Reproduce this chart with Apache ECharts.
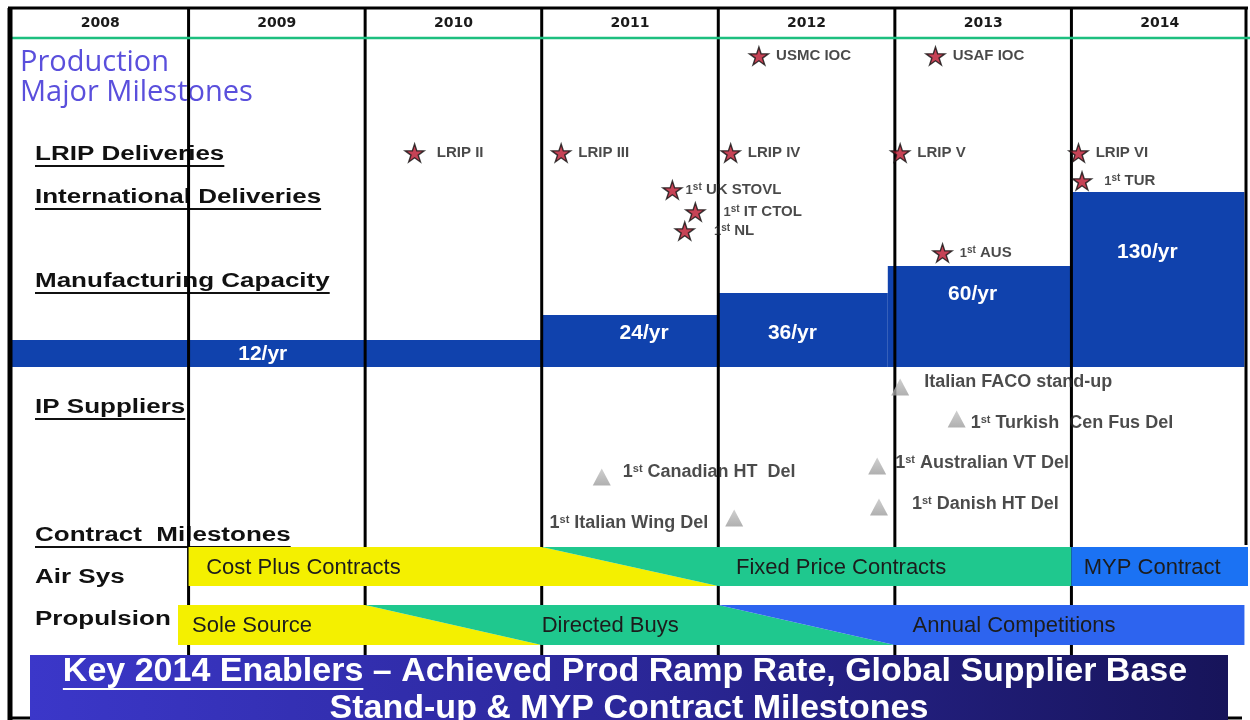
<!DOCTYPE html>
<html>
<head>
<meta charset="utf-8">
<title>Production Major Milestones</title>
<script src="https://cdn.jsdelivr.net/npm/echarts@6/dist/echarts.min.js"></script>
<style>
  html, body { margin: 0; padding: 0; background: #fff; }
  #main { width: 1250px; height: 720px; }
</style>
</head>
<body>
<div id="main"></div>
<script>
// header years (columns) and the year boundaries between them
var years = ['2008', '2009', '2010', '2011', '2012', '2013', '2014'];
var yearBounds = [2009, 2010, 2011, 2012, 2013, 2014];

// star milestones: production + international deliveries
var starNames = ['USMC IOC', 'USAF IOC', 'LRIP II', 'LRIP III', 'LRIP IV', 'LRIP V', 'LRIP VI',
  '1st UK STOVL', '1st IT CTOL', '1st NL', '1st AUS', '1st TUR'];
var starDates = [2012.23, 2013.23, 2010.28, 2011.11, 2012.07, 2013.03, 2014.04,
  2011.74, 2011.87, 2011.81, 2013.27, 2014.06];
var starRows = [56, 56, 153, 153, 153, 153, 153, 190, 212, 231, 253, 181];

// manufacturing capacity steps
var capRates = ['12/yr', '24/yr', '36/yr', '60/yr', '130/yr'];
var capFrom = [2008, 2011, 2012, 2012.96, 2014];
var capTo = [2011, 2012, 2012.96, 2014, 2014.98];
var capLevel = [340, 315, 293, 266, 192];
var capLabelAt = [2009.42, 2011.58, 2012.42, 2013.44, 2014.43];
var capLabelRow = [354, 333, 333, 294, 252];

// IP supplier milestones (triangles)
var ipNames = ['Italian FACO stand-up', '1st Turkish  Cen Fus Del', '1st Australian VT Del',
  '1st Danish HT Del', '1st Canadian HT  Del', '1st Italian Wing Del'];
var ipDates = [2013.03, 2013.35, 2012.90, 2012.91, 2011.34, 2012.09];
var ipRows = [387, 419, 466, 507, 477, 518];

// contract milestones: phases with slanted hand-overs
var airNames = ['Cost Plus Contracts', 'Fixed Price Contracts', 'MYP Contract'];
var airTopFrom = [2009, 2011, 2014];
var airTopTo = [2011, 2014, 2015];
var airBotFrom = [2009, 2012, 2014];
var airBotTo = [2012, 2014, 2015];
var airLabelAt = [2009.1, 2012.1, 2014.07];

var propNames = ['Sole Source', 'Directed Buys', 'Annual Competitions'];
var propTopFrom = [2008.94, 2010, 2012];
var propTopTo = [2010, 2012, 2014.98];
var propBotFrom = [2008.94, 2011, 2013];
var propBotTo = [2011, 2013, 2014.98];
var propLabelAt = [2009.02, 2011.0, 2013.1];

// left hand section titles
var sectionNames = ['LRIP Deliveries', 'International Deliveries', 'Manufacturing Capacity',
  'IP Suppliers', 'Contract  Milestones', 'Air Sys', 'Propulsion'];
var sectionRows = [154, 197, 281, 407, 535, 577, 619];
var sectionUnderline = [true, true, true, true, true, false, false];

// ---- layout bits (not data) ----
var capBase = 367;
var airRow = [547, 586];
var propRow = [605, 645];
var airColors = ['#f4f000', '#1fc88e', '#1b72f3'];
var propColors = ['#f4f000', '#1fc88e', '#2d64ef'];
var ipLabelShift = [[15, -5], [5, 4], [9, -3], [24, -3], [12, -5], [-17, 5]];
var starLabelGap = { '1st IT CTOL': 18, '1st NL': 19, '1st UK STOVL': 3, '1st TUR': 12, 'LRIP II': 12 };

var SANS = '"Liberation Sans", Arial, sans-serif';
var starPath = 'path://M50,0 L61.2,34.5 L97.6,34.5 L68.2,55.9 L79.4,90.5 L50,69.1 L20.6,90.5 L31.8,55.9 L2.4,34.5 L38.8,34.5 Z';

function ordinal(name) {
  if (name.indexOf('1st') === 0) return '{n|1}{s|st}{t|' + name.slice(3) + '}';
  return '{t|' + name + '}';
}

function measure(text, font) {
  var ctx = document.createElement('canvas').getContext('2d');
  ctx.font = font;
  return ctx.measureText(text).width;
}

var chart = echarts.init(document.getElementById('main'));

var starData = starNames.map(function (n, i) {
  return {
    name: n,
    value: [starDates[i], starRows[i]],
    label: { distance: starLabelGap[n] != null ? starLabelGap[n] : 7 }
  };
});

var ipData = ipNames.map(function (n, i) {
  var sh = ipLabelShift[i];
  return {
    name: n,
    value: [ipDates[i], ipRows[i]],
    label: { position: sh[0] < 0 ? 'left' : 'right', distance: 0, offset: sh }
  };
});

var capData = capRates.map(function (r, i) {
  return [capFrom[i], capTo[i], capLevel[i], capLabelAt[i], capLabelRow[i]];
});

var contractData = [];
airNames.forEach(function (n, i) {
  contractData.push({ name: n, value: [airTopFrom[i], airTopTo[i], airBotFrom[i], airBotTo[i], airRow[0], airRow[1], airLabelAt[i]], color: airColors[i] });
});
propNames.forEach(function (n, i) {
  contractData.push({ name: n, value: [propTopFrom[i], propTopTo[i], propBotFrom[i], propBotTo[i], propRow[0], propRow[1], propLabelAt[i]], color: propColors[i] });
});

chart.setOption({
  animation: false,
  grid: { left: 12, right: 2, top: 0, bottom: 0, outerBoundsMode: 'none' },
  xAxis: [
    { type: 'value', min: 2008, max: 2015, show: false },
    {
      type: 'category', data: years, position: 'top', boundaryGap: true,
      axisLine: { show: false }, axisTick: { show: false }, splitLine: { show: false },
      axisLabel: { inside: true, margin: 16, color: '#1a1a1a', fontFamily: 'DejaVu Sans', fontWeight: 'bold', fontSize: 14 }
    }
  ],
  yAxis: { type: 'value', min: 0, max: 720, inverse: true, show: false },
  series: [
    {
      name: 'capacity', type: 'custom', z: 1, xAxisIndex: 0,
      encode: { x: [0, 1], y: 2 },
      data: capData,
      renderItem: function (params, api) {
        var p0 = api.coord([api.value(0), api.value(2)]);
        var p1 = api.coord([api.value(1), capBase]);
        var lp = api.coord([api.value(3), api.value(4)]);
        return {
          type: 'group',
          children: [
            { type: 'rect', shape: { x: p0[0], y: p0[1], width: p1[0] - p0[0], height: p1[1] - p0[1] }, style: { fill: '#1042ad' } },
            { type: 'text', x: lp[0], y: lp[1], style: { text: capRates[params.dataIndex], fill: '#fff', font: 'bold 21px ' + SANS, align: 'center', verticalAlign: 'middle' } }
          ]
        };
      }
    },
    {
      name: 'years', type: 'custom', z: 2, xAxisIndex: 0,
      encode: { x: 0, y: [1, 2] },
      data: yearBounds.map(function (y) { return [y, 8, 655]; }),
      renderItem: function (params, api) {
        var a = api.coord([api.value(0), api.value(1)]);
        var b = api.coord([api.value(0), api.value(2)]);
        return { type: 'line', shape: { x1: a[0], y1: a[1], x2: b[0], y2: b[1] }, style: { stroke: '#000', lineWidth: 3 } };
      }
    },
    {
      name: 'contracts', type: 'custom', z: 3, xAxisIndex: 0,
      encode: { x: [0, 1, 2, 3], y: [4, 5] },
      data: contractData,
      renderItem: function (params, api) {
        var top = api.value(4), bot = api.value(5);
        var tl = api.coord([api.value(0), top]);
        var tr = api.coord([api.value(1), top]);
        var br = api.coord([api.value(3), bot]);
        var bl = api.coord([api.value(2), bot]);
        var lp = api.coord([api.value(6), (top + bot) / 2]);
        var item = contractData[params.dataIndex];
        return {
          type: 'group',
          children: [
            { type: 'polygon', shape: { points: [tl, tr, br, bl] }, style: { fill: item.color } },
            { type: 'text', x: lp[0], y: lp[1] + 1, style: { text: item.name, fill: '#1c1c1c', font: '22px ' + SANS, align: 'left', verticalAlign: 'middle' } }
          ]
        };
      }
    },
    {
      name: 'IP suppliers', type: 'scatter', z: 4, xAxisIndex: 0,
      symbol: 'triangle', symbolSize: [18, 17],
      itemStyle: {
        color: new echarts.graphic.LinearGradient(0, 0, 0, 1, [
          { offset: 0, color: '#c4c4c4' }, { offset: 1, color: '#9c9c9c' }
        ])
      },
      label: {
        show: true, formatter: function (p) { return ordinal(p.name); },
        rich: {
          t: { fontFamily: SANS, fontWeight: 'bold', fontSize: 18, color: '#1e1e1e' },
          n: { fontFamily: SANS, fontWeight: 'bold', fontSize: 18, color: '#1e1e1e' },
          s: { fontFamily: SANS, fontWeight: 'bold', fontSize: 11, color: '#1e1e1e', verticalAlign: 'top' }
        }
      },
      data: ipData
    },
    {
      name: 'milestones', type: 'scatter', z: 5, xAxisIndex: 0,
      symbol: starPath, symbolSize: [19, 18],
      itemStyle: { color: '#b8142c', borderColor: '#111', borderWidth: 1.4 },
      label: {
        show: true, position: 'right', formatter: function (p) { return ordinal(p.name); },
        rich: {
          t: { fontFamily: SANS, fontWeight: 'bold', fontSize: 15, color: '#1c1c1c' },
          n: { fontFamily: SANS, fontWeight: 'bold', fontSize: 13, color: '#1c1c1c' },
          s: { fontFamily: SANS, fontWeight: 'bold', fontSize: 10, color: '#1c1c1c', verticalAlign: 'top' }
        }
      },
      data: starData
    }
  ]
});

// frame, titles and the bottom banner
var graphics = [];
function hline(x1, x2, y, w, c, z) {
  graphics.push({ type: 'line', z: z || 6, shape: { x1: x1, y1: y, x2: x2, y2: y }, style: { stroke: c, lineWidth: w } });
}
function vline(x, y1, y2, w, c, z) {
  graphics.push({ type: 'line', z: z || 6, shape: { x1: x, y1: y1, x2: x, y2: y2 }, style: { stroke: c, lineWidth: w } });
}
hline(8, 1248, 8, 3, '#000');
hline(12, 1250, 38, 2.5, '#1dbf7f');
vline(10, 8, 720, 5, '#000');
vline(1246, 8, 545, 3, '#000', 1);
hline(8, 1242, 718, 3, '#000');

var titleFont = '29px "Open Sans", sans-serif';
graphics.push({ type: 'text', x: 20, y: 63, z: 1, style: { text: 'Production', font: titleFont, fill: '#5a4fdc', verticalAlign: 'middle' } });
graphics.push({ type: 'text', x: 20, y: 93, z: 1, style: { text: 'Major Milestones', font: titleFont, fill: '#5a4fdc', verticalAlign: 'middle' } });

var secFont = 'bold 20px ' + SANS;
sectionNames.forEach(function (n, i) {
  var y = chart.convertToPixel({ yAxisIndex: 0 }, sectionRows[i]);
  var kids = [{ type: 'text', x: 0, y: 0, style: { text: n, font: secFont, fill: '#111', verticalAlign: 'middle' } }];
  if (sectionUnderline[i]) {
    kids.push({ type: 'line', shape: { x1: 0, y1: 12, x2: measure(n, secFont), y2: 12 }, style: { stroke: '#111', lineWidth: 2.2 } });
  }
  graphics.push({ type: 'group', x: 35, y: y, scaleX: 1.3, z: 1, children: kids });
});

var bannerFont = 'bold 34px ' + SANS;
var line1 = 'Key 2014 Enablers \u2013 Achieved Prod Ramp Rate, Global Supplier Base';
var w1 = measure(line1, bannerFont);
var wKey = measure('Key 2014 Enablers', bannerFont);
graphics.push({
  type: 'rect', z: 10, shape: { x: 30, y: 655, width: 1198, height: 70 },
  style: {
    fill: new echarts.graphic.LinearGradient(0, 0, 1, 0, [
      { offset: 0, color: '#3b37c9' }, { offset: 0.5, color: '#2b2799' }, { offset: 1, color: '#17145a' }
    ])
  }
});
graphics.push({ type: 'text', z: 11, x: 625, y: 672, style: { text: line1, font: bannerFont, fill: '#fff', align: 'center', verticalAlign: 'middle' } });
graphics.push({ type: 'line', z: 11, shape: { x1: 625 - w1 / 2, y1: 689, x2: 625 - w1 / 2 + wKey, y2: 689 }, style: { stroke: '#fff', lineWidth: 2 } });
graphics.push({ type: 'text', z: 11, x: 629, y: 709, style: { text: 'Stand-up & MYP Contract Milestones', font: bannerFont, fill: '#fff', align: 'center', verticalAlign: 'middle' } });

chart.setOption({ graphic: { elements: graphics } });
</script>
</body>
</html>
